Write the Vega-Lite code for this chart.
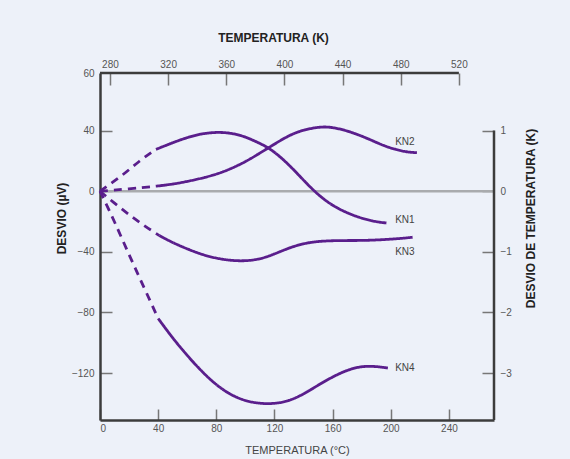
{
  "$schema": "https://vega.github.io/schema/vega-lite/v6.json",
  "autosize": {"type": "none"},
  "width": 394,
  "height": 347,
  "padding": {"left": 100, "top": 73, "right": 76, "bottom": 39},
  "background": "#edf1f9",
  "config": {
    "view": {"stroke": null},
    "axis": {
      "labelFont": "Liberation Sans",
      "titleFont": "Liberation Sans",
      "labelFontSize": 10,
      "labelColor": "#555555",
      "titleColor": "#222222",
      "titleFontSize": 12,
      "titleFontWeight": "bold",
      "domainColor": "#3c3c3c",
      "domainWidth": 2.5,
      "tickColor": "#777777",
      "tickWidth": 1.5,
      "grid": false
    }
  },
  "datasets": {
    "curves": [
      {"s": "KN1", "seg": "dashed", "x": 0, "y": 0},
      {"s": "KN1", "seg": "dashed", "x": 15, "y": 10},
      {"s": "KN1", "seg": "dashed", "x": 27, "y": 20},
      {"s": "KN1", "seg": "dashed", "x": 38.5, "y": 27.6},
      {"s": "KN1", "seg": "solid", "x": 38.5, "y": 27.6},
      {"s": "KN1", "seg": "solid", "x": 50, "y": 32},
      {"s": "KN1", "seg": "solid", "x": 60, "y": 35.5},
      {"s": "KN1", "seg": "solid", "x": 70, "y": 38},
      {"s": "KN1", "seg": "solid", "x": 80, "y": 39},
      {"s": "KN1", "seg": "solid", "x": 90, "y": 38.5},
      {"s": "KN1", "seg": "solid", "x": 100, "y": 36},
      {"s": "KN1", "seg": "solid", "x": 110, "y": 31.5},
      {"s": "KN1", "seg": "solid", "x": 116, "y": 28.7},
      {"s": "KN1", "seg": "solid", "x": 125, "y": 22},
      {"s": "KN1", "seg": "solid", "x": 135, "y": 12.5},
      {"s": "KN1", "seg": "solid", "x": 147, "y": 0},
      {"s": "KN1", "seg": "solid", "x": 160, "y": -10},
      {"s": "KN1", "seg": "solid", "x": 175, "y": -16.5},
      {"s": "KN1", "seg": "solid", "x": 188, "y": -20},
      {"s": "KN1", "seg": "solid", "x": 197, "y": -21},
      {"s": "KN2", "seg": "dashed", "x": 0, "y": 0},
      {"s": "KN2", "seg": "dashed", "x": 20, "y": 1.5},
      {"s": "KN2", "seg": "dashed", "x": 38.5, "y": 3.3},
      {"s": "KN2", "seg": "solid", "x": 38.5, "y": 3.3},
      {"s": "KN2", "seg": "solid", "x": 50, "y": 4.6},
      {"s": "KN2", "seg": "solid", "x": 61, "y": 6.6},
      {"s": "KN2", "seg": "solid", "x": 72, "y": 9},
      {"s": "KN2", "seg": "solid", "x": 84, "y": 12.3},
      {"s": "KN2", "seg": "solid", "x": 95, "y": 17},
      {"s": "KN2", "seg": "solid", "x": 103, "y": 21},
      {"s": "KN2", "seg": "solid", "x": 116, "y": 28.7},
      {"s": "KN2", "seg": "solid", "x": 130, "y": 37},
      {"s": "KN2", "seg": "solid", "x": 140, "y": 40.5},
      {"s": "KN2", "seg": "solid", "x": 150, "y": 42.3},
      {"s": "KN2", "seg": "solid", "x": 158, "y": 42.6},
      {"s": "KN2", "seg": "solid", "x": 170, "y": 40},
      {"s": "KN2", "seg": "solid", "x": 183, "y": 35.3},
      {"s": "KN2", "seg": "solid", "x": 195, "y": 30},
      {"s": "KN2", "seg": "solid", "x": 203, "y": 27.6},
      {"s": "KN2", "seg": "solid", "x": 211, "y": 25.8},
      {"s": "KN2", "seg": "solid", "x": 218, "y": 25.4},
      {"s": "KN3", "seg": "dashed", "x": 0, "y": 0},
      {"s": "KN3", "seg": "dashed", "x": 10, "y": -8},
      {"s": "KN3", "seg": "dashed", "x": 20, "y": -15.5},
      {"s": "KN3", "seg": "dashed", "x": 30, "y": -22.5},
      {"s": "KN3", "seg": "dashed", "x": 40.8, "y": -29.3},
      {"s": "KN3", "seg": "solid", "x": 40.8, "y": -29.3},
      {"s": "KN3", "seg": "solid", "x": 50, "y": -34},
      {"s": "KN3", "seg": "solid", "x": 61, "y": -38.5},
      {"s": "KN3", "seg": "solid", "x": 72, "y": -42.5},
      {"s": "KN3", "seg": "solid", "x": 85, "y": -45.3},
      {"s": "KN3", "seg": "solid", "x": 98, "y": -46.3},
      {"s": "KN3", "seg": "solid", "x": 110, "y": -45},
      {"s": "KN3", "seg": "solid", "x": 120, "y": -41.5},
      {"s": "KN3", "seg": "solid", "x": 130, "y": -37.4},
      {"s": "KN3", "seg": "solid", "x": 140, "y": -34.5},
      {"s": "KN3", "seg": "solid", "x": 150, "y": -33},
      {"s": "KN3", "seg": "solid", "x": 165, "y": -32.5},
      {"s": "KN3", "seg": "solid", "x": 180, "y": -32.6},
      {"s": "KN3", "seg": "solid", "x": 195, "y": -32},
      {"s": "KN3", "seg": "solid", "x": 207, "y": -31.2},
      {"s": "KN3", "seg": "solid", "x": 215, "y": -30.4},
      {"s": "KN4", "seg": "dashed", "x": 0, "y": 0},
      {"s": "KN4", "seg": "dashed", "x": 10, "y": -20},
      {"s": "KN4", "seg": "dashed", "x": 20, "y": -42},
      {"s": "KN4", "seg": "dashed", "x": 30, "y": -63},
      {"s": "KN4", "seg": "dashed", "x": 40, "y": -84},
      {"s": "KN4", "seg": "solid", "x": 40, "y": -84},
      {"s": "KN4", "seg": "solid", "x": 50, "y": -97},
      {"s": "KN4", "seg": "solid", "x": 60, "y": -108.5},
      {"s": "KN4", "seg": "solid", "x": 70, "y": -119},
      {"s": "KN4", "seg": "solid", "x": 80, "y": -128},
      {"s": "KN4", "seg": "solid", "x": 90, "y": -134.5},
      {"s": "KN4", "seg": "solid", "x": 100, "y": -138.5},
      {"s": "KN4", "seg": "solid", "x": 110, "y": -140.2},
      {"s": "KN4", "seg": "solid", "x": 120, "y": -140.3},
      {"s": "KN4", "seg": "solid", "x": 130, "y": -138.5},
      {"s": "KN4", "seg": "solid", "x": 140, "y": -134},
      {"s": "KN4", "seg": "solid", "x": 150, "y": -128},
      {"s": "KN4", "seg": "solid", "x": 160, "y": -122.5},
      {"s": "KN4", "seg": "solid", "x": 170, "y": -118},
      {"s": "KN4", "seg": "solid", "x": 180, "y": -115.4},
      {"s": "KN4", "seg": "solid", "x": 190, "y": -115.6},
      {"s": "KN4", "seg": "solid", "x": 198, "y": -116.7}
    ],
    "labels": [
      {"s": "KN2", "x": 203, "y": 32.2},
      {"s": "KN1", "x": 203, "y": -19},
      {"s": "KN3", "x": 203, "y": -39.9},
      {"s": "KN4", "x": 203, "y": -116.9}
    ]
  },
  "resolve": {"scale": {"x": "independent", "y": "independent"}, "axis": {"x": "independent", "y": "independent"}},
  "layer": [
    {
      "data": {"values": [{"z": 0}]},
      "mark": {"type": "rule", "color": "#a9abae", "strokeWidth": 2.5},
      "encoding": {
        "y": {"field": "z", "type": "quantitative", "scale": {"domain": [-151, 78], "nice": false, "zero": false}, "axis": null}
      }
    },
    {
      "data": {"name": "curves"},
      "mark": {"type": "line", "color": "#5a1e8c", "strokeWidth": 2.8, "interpolate": "basis"},
      "encoding": {
        "x": {"field": "x", "type": "quantitative", "scale": {"domain": [0, 271], "nice": false, "zero": false},
          "axis": {"orient": "bottom", "values": [0, 40, 80, 120, 160, 200, 240], "tickSize": -11, "labelPadding": 14, "title": "TEMPERATURA (°C)", "titleFontWeight": "normal", "titleFontSize": 11, "titleColor": "#444444", "titlePadding": 11}},
        "y": {"field": "y", "type": "quantitative", "scale": {"domain": [-151, 78], "nice": false, "zero": false},
          "axis": {"orient": "left", "values": [-120, -80, -40, 0, 40, 78], "labelExpr": "datum.value > 70 ? '60' : datum.label", "tickOpacity": {"condition": {"test": "datum.value > 70", "value": 0}, "value": 1}, "tickSize": -12, "labelPadding": 18, "title": "DESVIO (µV)", "titleY": 145, "titlePadding": 3}},
        "detail": {"field": "s"},
        "strokeDash": {"field": "seg", "type": "nominal", "scale": {"domain": ["dashed", "solid"], "range": [[8, 6], [1, 0]]}, "legend": null}
      }
    },
    {
      "data": {"name": "labels"},
      "mark": {"type": "text", "align": "left", "baseline": "middle", "font": "Liberation Sans", "fontSize": 10, "color": "#444444"},
      "encoding": {
        "x": {"field": "x", "type": "quantitative", "scale": {"domain": [0, 271], "nice": false, "zero": false}, "axis": null},
        "y": {"field": "y", "type": "quantitative", "scale": {"domain": [-151, 78], "nice": false, "zero": false}, "axis": null},
        "text": {"field": "s"}
      }
    },
    {
      "data": {"values": [{"k0": 273.15, "k1": 520, "y": 78}]},
      "mark": {"type": "rule", "color": "#3c3c3c", "strokeWidth": 2.5},
      "encoding": {
        "x": {"field": "k0", "type": "quantitative", "scale": {"domain": [273.15, 544.15], "nice": false, "zero": false},
          "axis": {"orient": "top", "domain": false, "values": [280, 320, 360, 400, 440, 480, 520], "tickSize": -12, "labelPadding": 16, "title": "TEMPERATURA (K)", "titleX": 173, "titlePadding": 15}},
        "x2": {"field": "k1"},
        "y": {"field": "y", "type": "quantitative", "scale": {"domain": [-151, 78], "nice": false, "zero": false}, "axis": null}
      }
    },
    {
      "data": {"values": [{"x": 271, "k0": 1, "k1": -3.775}]},
      "mark": {"type": "rule", "color": "#3c3c3c", "strokeWidth": 2.5},
      "encoding": {
        "x": {"field": "x", "type": "quantitative", "scale": {"domain": [0, 271], "nice": false, "zero": false}, "axis": null},
        "y": {"field": "k0", "type": "quantitative", "scale": {"domain": [-3.775, 1.95], "nice": false, "zero": false},
          "axis": {"orient": "right", "domain": false, "values": [1, 0, -1, -2, -3], "tickSize": -12, "labelPadding": 18, "title": "DESVIO DE TEMPERATURA (K)", "titleAngle": 270, "titleY": 145, "titlePadding": 26}},
        "y2": {"field": "k1"}
      }
    }
  ]
}
